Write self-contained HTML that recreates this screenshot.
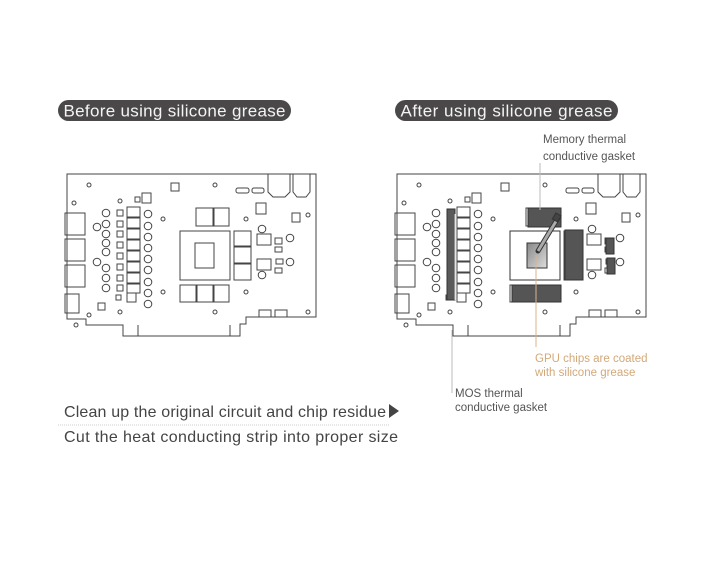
<!DOCTYPE html>
<html><head><meta charset="utf-8"><style>
html,body{margin:0;padding:0;background:#fff;width:720px;height:576px;overflow:hidden}
svg{display:block}
text{font-family:"Liberation Sans",sans-serif}
</style></head><body>
<svg width="720" height="576" viewBox="0 0 720 576" xmlns="http://www.w3.org/2000/svg">
<defs>
<linearGradient id="g" x1="0" y1="0" x2="1" y2="1"><stop offset="0" stop-color="#888"/><stop offset="1" stop-color="#ddd"/></linearGradient>
<g id="board" fill="none" stroke="#444" stroke-width="1">
<path d="M0,0 H249 V143 H179 V150 H173 V162 H56 V151 H19 V145 H0 Z" fill="#fff"/>
<path d="M71,151 V162 M163,151 V162"/>
<rect x="-2" y="39" width="20" height="22"/><rect x="-2" y="65" width="20" height="22"/><rect x="-2" y="91" width="20" height="22"/><rect x="-2" y="120" width="14" height="19"/>
<g>
<circle cx="22" cy="11" r="2"/><circle cx="7" cy="29" r="2"/><circle cx="148" cy="11" r="2"/><circle cx="53" cy="27" r="2"/><circle cx="96" cy="45" r="2"/><circle cx="96" cy="118" r="2"/><circle cx="179" cy="45" r="2"/><circle cx="179" cy="118" r="2"/><circle cx="241" cy="41" r="2"/><circle cx="241" cy="138" r="2"/><circle cx="148" cy="138" r="2"/><circle cx="53" cy="138" r="2"/><circle cx="22" cy="141" r="2"/><circle cx="9" cy="151" r="2"/>
</g>
<rect x="104" y="9" width="8" height="8"/><rect x="68" y="23" width="5" height="5"/><rect x="75" y="19" width="9" height="10"/><rect x="189" y="29" width="10" height="11"/><rect x="225" y="39" width="8" height="9"/><rect x="31" y="129" width="7" height="7"/><rect x="49" y="121" width="5" height="5"/>
<rect x="169" y="14" width="13" height="5" rx="2"/><rect x="185" y="14" width="12" height="5" rx="2"/>
<path d="M201,0 V18 L206,23 H218 L223,18 V0 M226,0 V18 L230,23 H239 L243,18 V0"/>
<g><rect x="50" y="36" width="6" height="6"/><rect x="50" y="47" width="6" height="6"/><rect x="50" y="57" width="6" height="6"/><rect x="50" y="68" width="6" height="6"/><rect x="50" y="79" width="6" height="6"/><rect x="50" y="90" width="6" height="6"/><rect x="50" y="101" width="6" height="6"/><rect x="50" y="111" width="6" height="6"/></g>
<rect x="60" y="33" width="13" height="10"/><rect x="60" y="44" width="13" height="10"/><rect x="60" y="55" width="13" height="10"/><rect x="60" y="66" width="13" height="10"/><rect x="60" y="77" width="13" height="10"/><rect x="60" y="88" width="13" height="10"/><rect x="60" y="99" width="13" height="10"/><rect x="60" y="110" width="13" height="9"/><rect x="60" y="119" width="9" height="9"/>
<circle cx="39" cy="39" r="3.8"/><circle cx="39" cy="50" r="3.8"/><circle cx="39" cy="60" r="3.8"/><circle cx="39" cy="69" r="3.8"/><circle cx="39" cy="78" r="3.8"/><circle cx="39" cy="94" r="3.8"/><circle cx="39" cy="104" r="3.8"/><circle cx="39" cy="114" r="3.8"/><circle cx="30" cy="53" r="3.8"/><circle cx="30" cy="88" r="3.8"/>
<circle cx="81" cy="40" r="3.8"/><circle cx="81" cy="52" r="3.8"/><circle cx="81" cy="63" r="3.8"/><circle cx="81" cy="74" r="3.8"/><circle cx="81" cy="85" r="3.8"/><circle cx="81" cy="96" r="3.8"/><circle cx="81" cy="108" r="3.8"/><circle cx="81" cy="119" r="3.8"/><circle cx="81" cy="130" r="3.8"/>
<rect x="113" y="57" width="50" height="49"/><rect x="128" y="69" width="19" height="25"/>
<rect x="129" y="34" width="17" height="18"/><rect x="147" y="34" width="15" height="18"/>
<rect x="113" y="111" width="16" height="17"/><rect x="130" y="111" width="16" height="17"/><rect x="147" y="111" width="15" height="17"/>
<rect x="167" y="57" width="17" height="15"/><rect x="167" y="73" width="17" height="16"/><rect x="167" y="90" width="17" height="16"/>
<rect x="190" y="60" width="14" height="11"/><rect x="190" y="85" width="14" height="11"/>
<rect x="208" y="64" width="7" height="6"/><rect x="208" y="73" width="7" height="5"/><rect x="209" y="85" width="7" height="5"/><rect x="208" y="94" width="7" height="5"/>
<circle cx="195" cy="55" r="3.8"/><circle cx="223" cy="64" r="3.8"/><circle cx="223" cy="88" r="3.8"/><circle cx="195" cy="101" r="3.8"/>
<rect x="192" y="136" width="12" height="7"/><rect x="208" y="136" width="12" height="7"/>
</g>
</defs>

<rect x="58" y="100" width="233" height="21" rx="10.5" fill="#4a4848"/>
<text x="174.5" y="116.5" font-size="17" fill="#f4f4f4" text-anchor="middle" textLength="222">Before using silicone grease</text>
<rect x="395" y="100" width="223" height="21" rx="10.5" fill="#4a4848"/>
<text x="506.5" y="116.5" font-size="17" fill="#f4f4f4" text-anchor="middle" textLength="212">After using silicone grease</text>

<use href="#board" x="67" y="174"/>
<use href="#board" x="397" y="174"/>

<g transform="translate(397,174)" stroke="#333" stroke-width="1">
<rect x="50" y="35" width="8" height="91" fill="#5a5a5a"/>
<rect x="113" y="57" width="50" height="49" fill="#fff"/>
<rect x="130" y="69" width="20" height="25" fill="url(#g)"/>
<rect x="131" y="34" width="33" height="19" fill="#555"/>
<rect x="168" y="56" width="18" height="50" fill="#555"/>
<rect x="115" y="111" width="49" height="17" fill="#555"/>
<rect x="209" y="64" width="8" height="16" fill="#555"/>
<rect x="210" y="84" width="8" height="16" fill="#555"/>
<path d="M161,44 L141,77" stroke="#333" stroke-width="5" stroke-linecap="round"/>
<path d="M161,44 L141,77" stroke="#aaa" stroke-width="3"/>
<rect x="157" y="40" width="6" height="7" fill="#444" transform="rotate(30 160 43)"/>
</g>
<line x1="455" y1="214" x2="455" y2="300" stroke="#ccc" stroke-width="1"/>

<line x1="540" y1="163" x2="540" y2="210" stroke="#bbb" stroke-width="1"/>
<line x1="536" y1="255" x2="536" y2="347" stroke="#d8b48a" stroke-width="1"/>
<line x1="452" y1="330" x2="452" y2="393" stroke="#bbb" stroke-width="1"/>
<text x="543" y="143" font-size="11.5" fill="#555">Memory thermal</text>
<text x="543" y="160" font-size="11.5" fill="#555">conductive gasket</text>
<text x="535" y="362" font-size="11.5" fill="#d4a878">GPU chips are coated</text>
<text x="535" y="376" font-size="11.5" fill="#d4a878">with silicone grease</text>
<text x="455" y="397" font-size="11.5" fill="#555">MOS thermal</text>
<text x="455" y="411" font-size="11.5" fill="#555">conductive gasket</text>

<text x="64" y="417" font-size="16" fill="#444" textLength="322">Clean up the original circuit and chip residue</text>
<path d="M389,404 L399,411 L389,418 Z" fill="#444"/>
<line x1="58" y1="425" x2="390" y2="425" stroke="#ccc" stroke-width="1" stroke-dasharray="1,1"/>
<text x="64" y="442" font-size="16" fill="#444" textLength="334">Cut the heat conducting strip into proper size</text>
</svg>
</body></html>
